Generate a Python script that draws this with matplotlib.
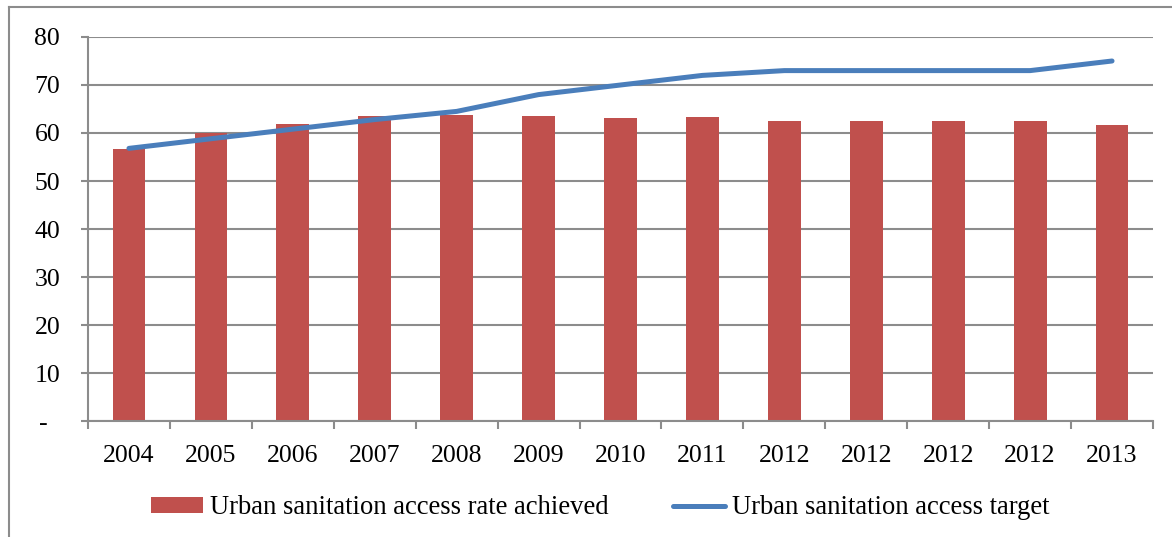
import matplotlib
matplotlib.use("Agg")
import matplotlib.pyplot as plt
from matplotlib.lines import Line2D
import numpy as np

# Data
years = ["2004", "2005", "2006", "2007", "2008", "2009", "2010",
         "2011", "2012", "2012", "2012", "2012", "2013"]
achieved = [56.7, 59.9, 61.9, 63.6, 63.7, 63.6, 63.1,
            63.3, 62.4, 62.4, 62.4, 62.4, 61.7]
target = [56.8, 58.8, 60.8, 62.8, 64.5, 68.0, 70.0,
          72.0, 73.0, 73.0, 73.0, 73.0, 75.0]
y_ticks = [0, 10, 20, 30, 40, 50, 60, 70, 80]
y_labels = ["-  ", "10", "20", "30", "40", "50", "60", "70", "80"]

RED = "#C0504D"
BLUE = "#4A7EBB"
GRID = "#8C8C8C"

plt.rcParams["font.family"] = ["Liberation Serif", "DejaVu Serif"]

W, H = 1172, 537
fig = plt.figure(figsize=(W / 100, H / 100), dpi=100)
ax = fig.add_axes([88 / W, 1 - 421 / H, (1153 - 88) / W, (421 - 37) / H])

x = np.arange(len(years))
bars = ax.bar(x, achieved, width=0.4, color=RED, zorder=2,
              label="Urban sanitation access rate achieved")
line, = ax.plot(x, target, color=BLUE, lw=3.6, solid_capstyle="round", zorder=3,
                label="Urban sanitation access target")

ax.set_xlim(-0.5, len(years) - 0.5)
ax.set_ylim(0, 80)

ax.set_yticks(y_ticks)
ax.set_yticklabels(y_labels)
ax.yaxis.grid(True, color=GRID, lw=1.5, zorder=0)
ax.tick_params(axis="y", length=5, width=1.5, color=GRID, pad=15, labelsize=18.5)

ax.set_xticks(x)
ax.set_xticklabels(years)
ax.set_xticks(np.arange(len(years) + 1) - 0.5, minor=True)
ax.tick_params(axis="x", which="major", length=0, pad=17.5, labelsize=18.5)
ax.tick_params(axis="x", which="minor", length=6, width=1.5, color=GRID)

for side in ("top", "right"):
    ax.spines[side].set_visible(False)
for side in ("left", "bottom"):
    ax.spines[side].set_color(GRID)
    ax.spines[side].set_linewidth(1.5)
    ax.spines[side].set_zorder(4)
ax.set_axisbelow(True)

fig.legend(handles=[bars, line], loc="center",
           bbox_to_anchor=(600 / W, 1 - 508 / H), ncol=2,
           frameon=False, fontsize=19.2, handlelength=1.95, handleheight=0.5,
           handletextpad=0.27, columnspacing=2.4)

# Chart-area border (left and top edges)
fig.add_artist(Line2D([8.5 / W, 8.5 / W], [0, 1 - 7 / H], transform=fig.transFigure,
                      color=GRID, lw=1.5))
fig.add_artist(Line2D([8.5 / W, 1], [1 - 7 / H, 1 - 7 / H], transform=fig.transFigure,
                      color=GRID, lw=1.5))

fig.savefig("out.png", dpi=100)
